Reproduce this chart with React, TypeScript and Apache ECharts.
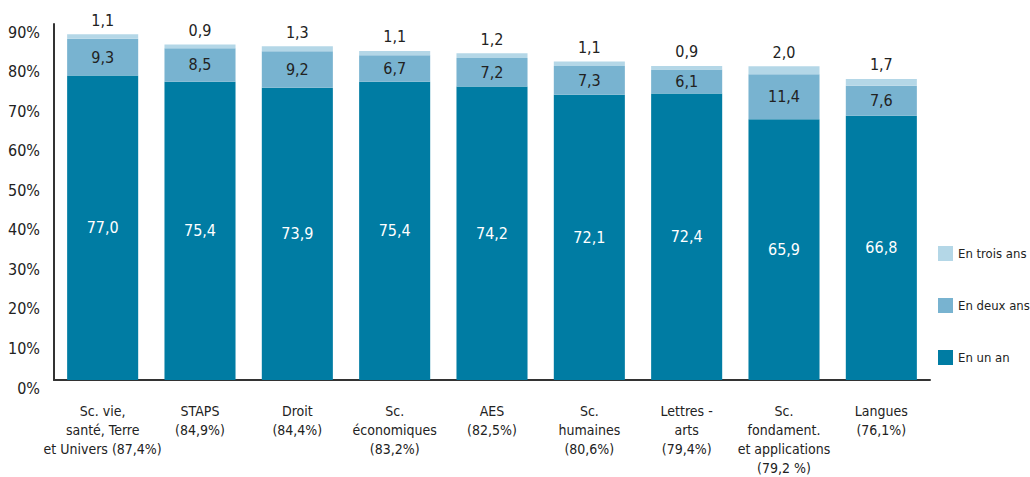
import React, { useEffect, useRef } from "react";
import * as echarts from "echarts";

const categories = [
  "Sc. vie,\nsanté, Terre\net Univers (87,4%)",
  "STAPS\n(84,9%)",
  "Droit\n(84,4%)",
  "Sc.\néconomiques\n(83,2%)",
  "AES\n(82,5%)",
  "Sc.\nhumaines\n(80,6%)",
  "Lettres -\narts\n(79,4%)",
  "Sc.\nfondament.\net applications\n(79,2 %)",
  "Langues\n(76,1%)",
];
const enUnAn = [77.0, 75.4, 73.9, 75.4, 74.2, 72.1, 72.4, 65.9, 66.8];
const enDeuxAns = [9.3, 8.5, 9.2, 6.7, 7.2, 7.3, 6.1, 11.4, 7.6];
const enTroisAns = [1.1, 0.9, 1.3, 1.1, 1.2, 1.1, 0.9, 2.0, 1.7];
const seriesNames = ["En un an", "En deux ans", "En trois ans"];

const FONT = "'Liberation Sans Narrow', 'DejaVu Sans Condensed', 'Roboto Condensed', sans-serif";
const fmt = (p: any) => Number(p.value).toFixed(1).replace(".", ",");

export default function App() {
  const ref = useRef<HTMLDivElement>(null);
  useEffect(() => {
    document.body.style.margin = "0";
    const chart = echarts.init(ref.current!, null, { renderer: "svg" });
    chart.setOption({
      animation: false,
      textStyle: { fontFamily: FONT },
      grid: { left: 54, right: 100, top: 24, bottom: 90, containLabel: false },
      legend: {
        orient: "vertical",
        left: 933,
        top: 241,
        itemWidth: 15,
        itemHeight: 15,
        itemGap: 37,
        data: ["En trois ans", "En deux ans", "En un an"],
        textStyle: { fontFamily: FONT, fontSize: 13, color: "#222" },
        icon: "rect",
      },
      xAxis: {
        type: "category",
        data: categories,
        axisLine: { lineStyle: { color: "#333", width: 2 } },
        axisTick: { show: false },
        axisLabel: {
          interval: 0,
          margin: 21,
          fontFamily: FONT,
          fontSize: 14,
          lineHeight: 19,
          color: "#222",
        },
      },
      yAxis: {
        type: "value",
        min: 0,
        max: 90,
        interval: 10,
        axisLine: { show: true, lineStyle: { color: "#333", width: 2 } },
        axisTick: { show: false },
        splitLine: { show: false },
        axisLabel: {
          formatter: "{value}%",
          margin: 14,
          fontFamily: FONT,
          fontSize: 16,
          color: "#222",
          verticalAlign: "top",
          lineHeight: 16,
        },
      },
      series: [
        {
          name: seriesNames[0],
          type: "bar",
          stack: "t",
          data: enUnAn,
          barCategoryGap: "27%",
          itemStyle: { color: "#007ca3" },
          label: { show: true, position: "inside", color: "#fff", fontSize: 16, fontFamily: FONT, formatter: fmt },
        },
        {
          name: seriesNames[1],
          type: "bar",
          stack: "t",
          data: enDeuxAns,
          itemStyle: { color: "#78b3d0" },
          label: { show: true, position: "inside", color: "#222", fontSize: 16, fontFamily: FONT, formatter: fmt },
        },
        {
          name: seriesNames[2],
          type: "bar",
          stack: "t",
          data: enTroisAns,
          itemStyle: { color: "#b4d7e7" },
          label: { show: true, position: "top", distance: 6, color: "#222", fontSize: 16, fontFamily: FONT, formatter: fmt },
        },
      ],
    });
    return () => chart.dispose();
  }, []);
  return <div ref={ref} style={{ width: 1030, height: 477 }} />;
}
